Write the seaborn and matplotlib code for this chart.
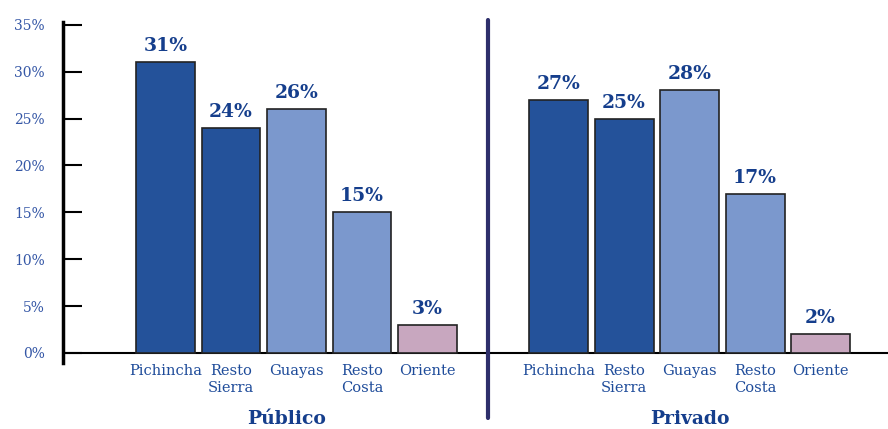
import matplotlib
matplotlib.use("Agg")
import matplotlib.pyplot as plt
import seaborn as sns
import pandas as pd

# data
regions = ["Pichincha", "Resto\nSierra", "Guayas", "Resto\nCosta", "Oriente"]
publico = [31, 24, 26, 15, 3]
privado = [27, 25, 28, 17, 2]
groups = ["Público", "Privado"]
y_ticks = [0, 5, 10, 15, 20, 25, 30, 35]

dark_blue = "#24529A"
light_blue = "#7B98CD"
pink = "#C8A7BF"
palette = {"Pichincha": dark_blue, "Resto\nSierra": dark_blue, "Guayas": light_blue,
           "Resto\nCosta": light_blue, "Oriente": pink}
label_blue = "#1F4C9A"

pos_pub = [0, 1, 2, 3, 4]
pos_priv = [6, 7, 8, 9, 10]
df = pd.DataFrame({
    "pos": pos_pub + pos_priv,
    "region": regions + regions,
    "value": publico + privado,
})

sns.set_style("white")
plt.rcParams["font.family"] = ["DejaVu Serif", "DejaVu Sans"]

fig = plt.figure(figsize=(8.88, 4.29), dpi=100)
ax = fig.add_axes([63 / 888, 66 / 429, 1 - 63 / 888, 341 / 429])

sns.barplot(data=df, x="pos", y="value", hue="region", palette=palette,
            native_scale=True, width=0.9, dodge=False, legend=False,
            edgecolor="#222222", linewidth=1.2, saturation=1, ax=ax)

for c in ax.containers:
    ax.bar_label(c, labels=[f"{v:.0f}%" for v in c.datavalues], padding=5,
                 fontsize=13.5, fontweight="bold", color="#153E8C")

ax.set_xlim(-1.565, 11.03)
ax.set_ylim(-1.07, 35.3)

# y axis
ax.set_yticks(y_ticks)
ax.set_yticklabels([f"{t}%" for t in y_ticks], fontsize=10, color="#3557A6")
ax.tick_params(axis="y", direction="in", length=14, width=1.5, pad=13, color="black", left=True)

# x category labels
ax.set_xticks(pos_pub + pos_priv)
ax.set_xticklabels(regions + regions, fontsize=10.5, color=label_blue, linespacing=1.2)
ax.tick_params(axis="x", length=0, pad=1)
ax.set_xlabel("")
ax.set_ylabel("")

for s in ["top", "right", "bottom"]:
    ax.spines[s].set_visible(False)
ax.spines["left"].set_linewidth(2.5)
ax.spines["left"].set_color("black")

# baseline and divider
ax.axhline(0, color="black", linewidth=1.5, zorder=0)
ax.plot([4.93, 4.93], [-6.93, 35.5], color="#2E2F6B", linewidth=3, clip_on=False)

# group labels
ax.text(1.85, -7.0, groups[0], ha="center", va="center", fontsize=13.5,
        fontweight="bold", color="#153E8C")
ax.text(8.0, -7.0, groups[1], ha="center", va="center", fontsize=13.5,
        fontweight="bold", color="#153E8C")

fig.savefig("out.png", dpi=100)
